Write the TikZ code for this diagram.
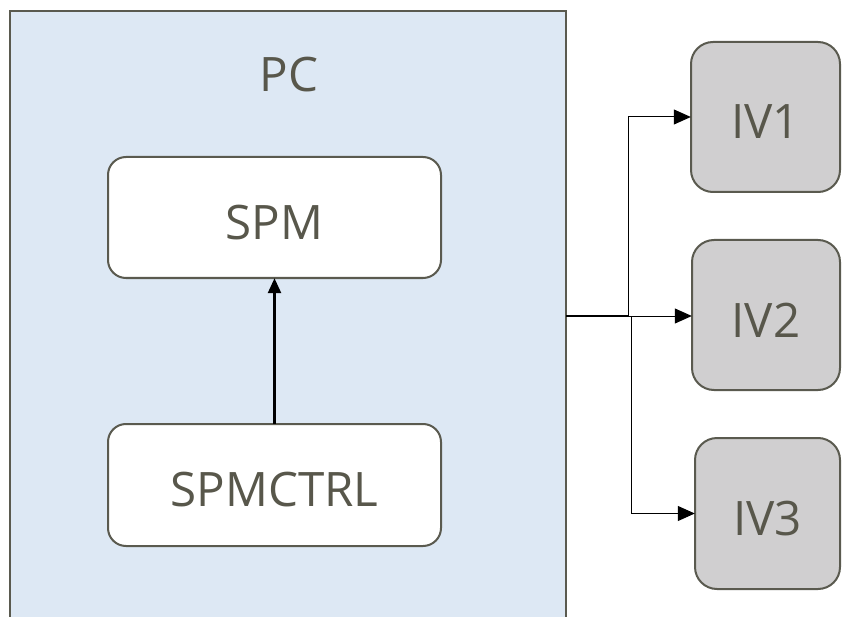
\documentclass[tikz,border=0pt]{standalone}
\usepackage{fontspec}
\setmainfont{Open Sans}
\usetikzlibrary{arrows.meta}
\definecolor{pcfill}{HTML}{DDE8F4}
\definecolor{edge}{HTML}{5A5A4F}
\definecolor{txt}{HTML}{58574B}
\definecolor{ivfill}{HTML}{D0CFD0}
\tikzset{
  x=1pt,y=-1pt,
  lbl/.style={font=\fontsize{47.5}{50}\selectfont, text=txt},
  innerbox/.style={draw=edge, line width=2pt, fill=white, rounded corners=18pt},
  ivbox/.style={draw=edge, line width=2pt, fill=ivfill, rounded corners=22pt},
  conn/.style={draw=black, line width=1pt, -{Triangle[length=17pt,width=15pt]}},
}
\begin{document}
\begin{tikzpicture}
\useasboundingbox (0,0) rectangle (842,617);
\path[fill=pcfill, draw=edge, line width=2pt] (10,11) -- (10,630) -- (566,630) -- (566,11) -- cycle;
\node[lbl] (pc) at (289,75) {PC};
\draw[innerbox] (108,157) rectangle (441,278);
\node (spm) [minimum width=333pt, minimum height=121pt, inner sep=0pt] at (274.5,217.5) {};
\node[lbl] at ([yshift=-5pt]spm.center) {SPM};
\draw[innerbox] (108,424) rectangle (441,546);
\node (ctrl) [minimum width=333pt, minimum height=122pt, inner sep=0pt] at (274.5,485) {};
\node[lbl] at ([yshift=-5pt]ctrl.center) {SPMCTRL};
\draw[ivbox] (691,42) rectangle (840,192);
\node (iv1) [minimum width=149pt, minimum height=150pt, inner sep=0pt] at (765.5,117) {};
\node[lbl] at ([yshift=-5pt]iv1.center) {IV1};
\draw[ivbox] (692,240) rectangle (840,390);
\node (iv2) [minimum width=148pt, minimum height=150pt, inner sep=0pt] at (766,315) {};
\node[lbl] at ([yshift=-5pt]iv2.center) {IV2};
\draw[ivbox] (695,438) rectangle (840,589);
\node (iv3) [minimum width=145pt, minimum height=151pt, inner sep=0pt] at (767.5,513.5) {};
\node[lbl] at ([yshift=-5pt]iv3.center) {IV3};
\coordinate (out) at (566,316);
\coordinate (j1) at (628,316);
\coordinate (j3) at (631,316);
\draw[line width=1.6pt] (out) -- (j1);
\draw[conn] (j1) |- (iv1.west);
\draw[conn] (j1) -- (iv2.west |- j1);
\draw[conn] (j3) |- (iv3.west);
\draw[line width=2.5pt, -{Triangle[length=15pt,width=13pt]}] (ctrl.north) -- (spm.south);
\end{tikzpicture}
\end{document}
